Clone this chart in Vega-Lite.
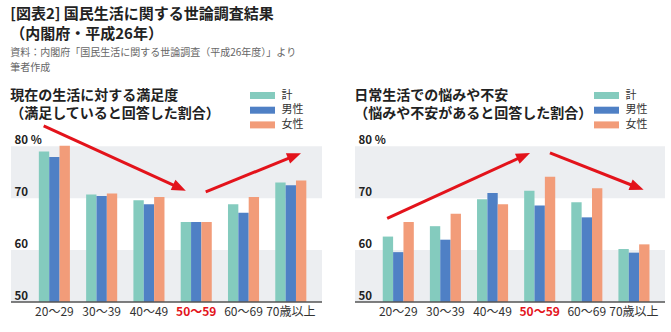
{
  "$schema": "https://vega.github.io/schema/vega-lite/v6.json",
  "padding": {"left": 10, "right": 9, "top": 7, "bottom": 0},
  "autosize": {"type": "pad"},
  "background": "white",
  "config": {
    "view": {"stroke": null},
    "font": "Noto Sans CJK JP"
  },
  "title": {
    "text": ["[図表2] 国民生活に関する世論調査結果", "（内閣府・平成26年）"],
    "subtitle": ["資料：内閣府「国民生活に関する世論調査（平成26年度）」より", "筆者作成"],
    "anchor": "start",
    "font": "Noto Sans CJK JP",
    "fontSize": 15,
    "fontWeight": "bold",
    "color": "#222",
    "lineHeight": 20,
    "subtitleFont": "Noto Sans CJK JP",
    "subtitleFontSize": 10,
    "subtitleColor": "#666",
    "subtitleLineHeight": 15,
    "subtitlePadding": 6,
    "offset": 14
  },
  "datasets": {
    "sat": [
      {"age": "20～29", "group": "計", "value": 79.0},
      {"age": "20～29", "group": "男性", "value": 77.9},
      {"age": "20～29", "group": "女性", "value": 80.1},
      {"age": "30～39", "group": "計", "value": 70.7},
      {"age": "30～39", "group": "男性", "value": 70.4},
      {"age": "30～39", "group": "女性", "value": 70.9},
      {"age": "40～49", "group": "計", "value": 69.6},
      {"age": "40～49", "group": "男性", "value": 68.8},
      {"age": "40～49", "group": "女性", "value": 70.2},
      {"age": "50～59", "group": "計", "value": 65.4},
      {"age": "50～59", "group": "男性", "value": 65.4},
      {"age": "50～59", "group": "女性", "value": 65.4},
      {"age": "60～69", "group": "計", "value": 68.8},
      {"age": "60～69", "group": "男性", "value": 67.2},
      {"age": "60～69", "group": "女性", "value": 70.2},
      {"age": "70歳以上", "group": "計", "value": 73.0},
      {"age": "70歳以上", "group": "男性", "value": 72.5},
      {"age": "70歳以上", "group": "女性", "value": 73.4}
    ],
    "anx": [
      {"age": "20～29", "group": "計", "value": 62.6},
      {"age": "20～29", "group": "男性", "value": 59.6},
      {"age": "20～29", "group": "女性", "value": 65.4},
      {"age": "30～39", "group": "計", "value": 64.6},
      {"age": "30～39", "group": "男性", "value": 62.0},
      {"age": "30～39", "group": "女性", "value": 67.0},
      {"age": "40～49", "group": "計", "value": 69.8},
      {"age": "40～49", "group": "男性", "value": 71.0},
      {"age": "40～49", "group": "女性", "value": 68.8},
      {"age": "50～59", "group": "計", "value": 71.4},
      {"age": "50～59", "group": "男性", "value": 68.6},
      {"age": "50～59", "group": "女性", "value": 74.1},
      {"age": "60～69", "group": "計", "value": 69.2},
      {"age": "60～69", "group": "男性", "value": 66.3},
      {"age": "60～69", "group": "女性", "value": 71.9},
      {"age": "70歳以上", "group": "計", "value": 60.2},
      {"age": "70歳以上", "group": "男性", "value": 59.5},
      {"age": "70歳以上", "group": "女性", "value": 61.1}
    ],
    "bands": [{"lo": 70, "hi": 80}, {"lo": 50, "hi": 60}],
    "base": [{"v": 50}],
    "arrowsL": [
      {"id": 1, "x1": -0.229, "y1": 83.9, "x2": 2.644, "y2": 71.98},
      {"id": 2, "x1": 3.20, "y1": 71.2, "x2": 5.078, "y2": 78.15}
    ],
    "arrowsR": [
      {"id": 1, "x1": -0.237, "y1": 66.1, "x2": 2.66, "y2": 78.14},
      {"id": 2, "x1": 3.218, "y1": 78.7, "x2": 5.068, "y2": 72.1}
    ]
  },
  "spacing": 31,
  "resolve": {"scale": {"color": "independent"}, "legend": {"color": "independent"}},
  "hconcat": [
    {
      "width": 311,
      "height": 215,
      "title": {"text": ["現在の生活に対する満足度", "（満足していると回答した割合）"], "anchor": "start", "font": "Noto Sans CJK JP", "fontSize": 14, "fontWeight": "bold", "color": "#222", "lineHeight": 18.5, "offset": -34},
      "resolve": {"scale": {"x": "independent"}},
      "layer": [
        {
          "data": {"name": "bands"},
          "mark": {"type": "rect", "color": "#eceef1"},
          "encoding": {
            "y": {"field": "hi", "type": "quantitative", "scale": {"domain": [50, 91.4], "zero": false, "nice": false},
              "axis": {"title": null, "values": [50, 60, 70, 80], "domain": false, "ticks": false, "grid": false, "zindex": 1, "offset": -3, "labelAlign": "left", "labelBaseline": "alphabetic", "labelPadding": 0, "labelOffset": -3, "labelFont": "Noto Sans CJK JP", "labelFontSize": 11.5, "labelFontWeight": "bold", "labelColor": "#222", "labelExpr": "datum.value == 80 ? '80 %' : datum.label"}},
            "y2": {"field": "lo"}
          }
        },
        {
          "data": {"name": "sat"},
          "mark": {"type": "bar"},
          "encoding": {
            "x": {"field": "age", "type": "nominal", "sort": ["20～29", "30～39", "40～49", "50～59", "60～69", "70歳以上"],
              "scale": {"paddingInner": 0.343, "paddingOuter": 0.46, "align": 0.64},
              "axis": {"title": null, "domain": false, "ticks": false, "labelAngle": 0, "labelPadding": 4, "labelFont": "Noto Sans CJK JP", "labelFontSize": 12, "labelColor": {"condition": {"test": "datum.value == '50～59'", "value": "#e3131b"}, "value": "#333"}, "labelFontWeight": {"condition": {"test": "datum.value == '50～59'", "value": "bold"}, "value": "normal"}}},
            "xOffset": {"field": "group", "type": "nominal", "sort": ["計", "男性", "女性"], "scale": {"paddingInner": 0, "paddingOuter": 0}},
            "y": {"field": "value", "type": "quantitative", "axis": {"title": null}},
            "y2": {"datum": 50},
            "color": {"field": "group", "type": "nominal", "sort": ["計", "男性", "女性"],
              "scale": {"domain": ["計", "男性", "女性"], "range": ["#84cbbe", "#4f80c5", "#f29c79"]},
              "legend": {"orient": "none", "legendX": 246, "legendY": 3, "padding": 0, "title": null, "symbolType": "M-2.5,-0.7L2.5,-0.7L2.5,0.7L-2.5,0.7Z", "symbolSize": 100, "symbolStrokeWidth": 0, "labelFont": "Noto Sans CJK JP", "labelFontSize": 11, "labelColor": "#333", "labelOffset": 13.5, "rowPadding": 2.7}}
          }
        },
        {
          "data": {"name": "base"},
          "mark": {"type": "rule", "color": "#555", "strokeWidth": 1.5},
          "encoding": {
            "y": {"field": "v", "type": "quantitative", "axis": {"title": null}}
          }
        },
        {
          "data": {"name": "arrowsL"},
          "mark": {"type": "rule", "color": "#e3131b", "strokeWidth": 3},
          "encoding": {
            "x": {"field": "x1", "type": "quantitative", "scale": {"domain": [-0.92, 5.66], "zero": false, "nice": false}, "axis": null},
            "y": {"field": "y1", "type": "quantitative", "axis": {"title": null}},
            "x2": {"field": "x2"},
            "y2": {"field": "y2"}
          }
        },
        {
          "data": {"name": "arrowsL"},
          "transform": [{"filter": "datum.id == 1"}],
          "mark": {"type": "point", "shape": "M-1,-0.8L1,0L-1,0.8Z", "filled": true, "color": "#e3131b", "opacity": 1, "size": 196, "angle": 24.6},
          "encoding": {
            "x": {"field": "x2", "type": "quantitative", "scale": {"domain": [-0.92, 5.66], "zero": false, "nice": false}, "axis": null},
            "y": {"field": "y2", "type": "quantitative", "axis": {"title": null}}
          }
        },
        {
          "data": {"name": "arrowsL"},
          "transform": [{"filter": "datum.id == 2"}],
          "mark": {"type": "point", "shape": "M-1,-0.8L1,0L-1,0.8Z", "filled": true, "color": "#e3131b", "opacity": 1, "size": 196, "angle": -22},
          "encoding": {
            "x": {"field": "x2", "type": "quantitative", "scale": {"domain": [-0.92, 5.66], "zero": false, "nice": false}, "axis": null},
            "y": {"field": "y2", "type": "quantitative", "axis": {"title": null}}
          }
        }
      ]
    },
    {
      "width": 310,
      "height": 215,
      "title": {"text": ["日常生活での悩みや不安", "（悩みや不安があると回答した割合）"], "anchor": "start", "font": "Noto Sans CJK JP", "fontSize": 14, "fontWeight": "bold", "color": "#222", "lineHeight": 18.5, "offset": -34},
      "resolve": {"scale": {"x": "independent"}},
      "layer": [
        {
          "data": {"name": "bands"},
          "mark": {"type": "rect", "color": "#eceef1"},
          "encoding": {
            "y": {"field": "hi", "type": "quantitative", "scale": {"domain": [50, 91.4], "zero": false, "nice": false},
              "axis": {"title": null, "values": [50, 60, 70, 80], "domain": false, "ticks": false, "grid": false, "zindex": 1, "offset": -3, "labelAlign": "left", "labelBaseline": "alphabetic", "labelPadding": 0, "labelOffset": -3, "labelFont": "Noto Sans CJK JP", "labelFontSize": 11.5, "labelFontWeight": "bold", "labelColor": "#222", "labelExpr": "datum.value == 80 ? '80 %' : datum.label"}},
            "y2": {"field": "lo"}
          }
        },
        {
          "data": {"name": "anx"},
          "mark": {"type": "bar"},
          "encoding": {
            "x": {"field": "age", "type": "nominal", "sort": ["20～29", "30～39", "40～49", "50～59", "60～69", "70歳以上"],
              "scale": {"paddingInner": 0.343, "paddingOuter": 0.46, "align": 0.64},
              "axis": {"title": null, "domain": false, "ticks": false, "labelAngle": 0, "labelPadding": 4, "labelFont": "Noto Sans CJK JP", "labelFontSize": 12, "labelColor": {"condition": {"test": "datum.value == '50～59'", "value": "#e3131b"}, "value": "#333"}, "labelFontWeight": {"condition": {"test": "datum.value == '50～59'", "value": "bold"}, "value": "normal"}}},
            "xOffset": {"field": "group", "type": "nominal", "sort": ["計", "男性", "女性"], "scale": {"paddingInner": 0, "paddingOuter": 0}},
            "y": {"field": "value", "type": "quantitative", "axis": {"title": null}},
            "y2": {"datum": 50},
            "color": {"field": "group", "type": "nominal", "sort": ["計", "男性", "女性"],
              "scale": {"domain": ["計", "男性", "女性"], "range": ["#84cbbe", "#4f80c5", "#f29c79"]},
              "legend": {"orient": "none", "legendX": 246, "legendY": 3, "padding": 0, "title": null, "symbolType": "M-2.5,-0.7L2.5,-0.7L2.5,0.7L-2.5,0.7Z", "symbolSize": 100, "symbolStrokeWidth": 0, "labelFont": "Noto Sans CJK JP", "labelFontSize": 11, "labelColor": "#333", "labelOffset": 13.5, "rowPadding": 2.7}}
          }
        },
        {
          "data": {"name": "base"},
          "mark": {"type": "rule", "color": "#555", "strokeWidth": 1.5},
          "encoding": {
            "y": {"field": "v", "type": "quantitative", "axis": {"title": null}}
          }
        },
        {
          "data": {"name": "arrowsR"},
          "mark": {"type": "rule", "color": "#e3131b", "strokeWidth": 3},
          "encoding": {
            "x": {"field": "x1", "type": "quantitative", "scale": {"domain": [-0.92, 5.66], "zero": false, "nice": false}, "axis": null},
            "y": {"field": "y1", "type": "quantitative", "axis": {"title": null}},
            "x2": {"field": "x2"},
            "y2": {"field": "y2"}
          }
        },
        {
          "data": {"name": "arrowsR"},
          "transform": [{"filter": "datum.id == 1"}],
          "mark": {"type": "point", "shape": "M-1,-0.8L1,0L-1,0.8Z", "filled": true, "color": "#e3131b", "opacity": 1, "size": 196, "angle": -24.4},
          "encoding": {
            "x": {"field": "x2", "type": "quantitative", "scale": {"domain": [-0.92, 5.66], "zero": false, "nice": false}, "axis": null},
            "y": {"field": "y2", "type": "quantitative", "axis": {"title": null}}
          }
        },
        {
          "data": {"name": "arrowsR"},
          "transform": [{"filter": "datum.id == 2"}],
          "mark": {"type": "point", "shape": "M-1,-0.8L1,0L-1,0.8Z", "filled": true, "color": "#e3131b", "opacity": 1, "size": 196, "angle": 21.3},
          "encoding": {
            "x": {"field": "x2", "type": "quantitative", "scale": {"domain": [-0.92, 5.66], "zero": false, "nice": false}, "axis": null},
            "y": {"field": "y2", "type": "quantitative", "axis": {"title": null}}
          }
        }
      ]
    }
  ]
}
